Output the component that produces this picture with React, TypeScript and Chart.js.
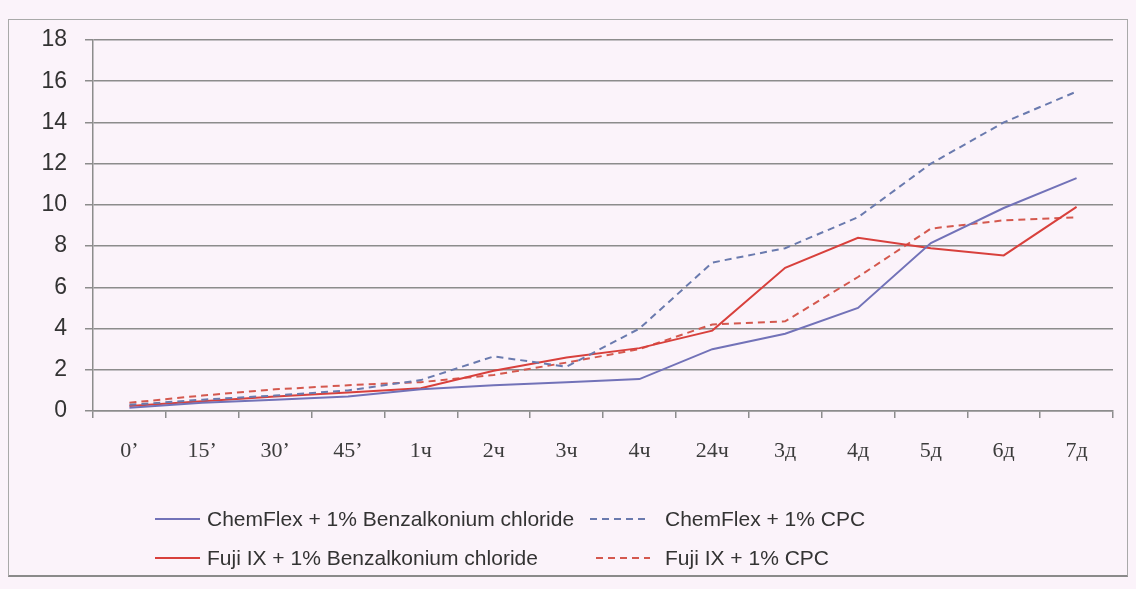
import React, { useEffect, useRef } from "react";
import { Chart, registerables } from "chart.js";

Chart.register(...registerables);

const categories = ["0’", "15’", "30’", "45’", "1ч", "2ч", "3ч", "4ч", "24ч", "3д", "4д", "5д", "6д", "7д"];

const chemFlexBAC = [0.16, 0.4, 0.55, 0.7, 1.05, 1.25, 1.4, 1.55, 3.0, 3.75, 5.0, 8.15, 9.85, 11.3];
const chemFlexCPC = [0.3, 0.55, 0.75, 1.0, 1.5, 2.65, 2.15, 4.0, 7.2, 7.9, 9.4, 12.0, 14.0, 15.5];
const fujiBAC = [0.24, 0.47, 0.7, 0.9, 1.1, 1.95, 2.6, 3.05, 3.9, 6.95, 8.4, 7.9, 7.55, 9.9];
const fujiCPC = [0.4, 0.75, 1.05, 1.25, 1.4, 1.75, 2.35, 3.0, 4.2, 4.35, 6.5, 8.85, 9.25, 9.4];

const seriesNames = [
  "ChemFlex + 1% Benzalkonium chloride",
  "ChemFlex + 1% CPC",
  "Fuji IX + 1% Benzalkonium chloride",
  "Fuji IX + 1% CPC",
];

const yTicks = [0, 2, 4, 6, 8, 10, 12, 14, 16, 18];

const BLUE = "#7272b8";
const BLUE_D = "#6a7aae";
const RED = "#d8403c";
const RED_D = "#d4584e";
const DASH = [7, 5];

const series = [
  { name: seriesNames[0], data: chemFlexBAC, color: BLUE, dash: [] as number[] },
  { name: seriesNames[1], data: chemFlexCPC, color: BLUE_D, dash: DASH },
  { name: seriesNames[2], data: fujiBAC, color: RED, dash: [] as number[] },
  { name: seriesNames[3], data: fujiCPC, color: RED_D, dash: DASH },
];

const GRID = "#8c8c8c";

export default function App() {
  const ref = useRef<HTMLCanvasElement>(null);

  useEffect(() => {
    if (!ref.current) return;
    const chart = new Chart(ref.current, {
      type: "line",
      data: {
        labels: categories,
        datasets: series.map((s) => ({
          label: s.name,
          data: s.data,
          borderColor: s.color,
          backgroundColor: s.color,
          borderDash: s.dash,
          borderWidth: 2,
          pointRadius: 0,
          tension: 0,
          fill: false,
        })),
      },
      options: {
        animation: false,
        responsive: false,
        devicePixelRatio: 1,
        layout: { padding: { left: 8, right: 23, top: 40, bottom: 9 } },
        plugins: {
          legend: { display: false },
          tooltip: { enabled: false },
          title: { display: false },
        },
        scales: {
          x: {
            type: "category",
            offset: true,
            grid: {
              drawOnChartArea: false,
              drawTicks: true,
              tickLength: 7,
              color: GRID,
              lineWidth: 1.5,
              offset: true,
            },
            border: { color: GRID, width: 1.5 },
            ticks: {
              font: { family: "'Liberation Serif', serif", size: 22 },
              color: "#3c3c3c",
              padding: 20,
              maxRotation: 0,
              autoSkip: false,
            },
            afterFit: (s: any) => {
              s.height = 50;
            },
          },
          y: {
            min: yTicks[0],
            max: yTicks[yTicks.length - 1],
            afterBuildTicks: (s: any) => {
              s.ticks = yTicks.map((v) => ({ value: v }));
            },
            ticks: {
              font: { family: "'Liberation Sans', Arial, sans-serif", size: 23 },
              color: "#333333",
              padding: 18,
            },
            grid: { color: GRID, lineWidth: 1.5, tickLength: 8 },
            border: { color: GRID, width: 1.5 },
            afterFit: (s: any) => {
              s.width = 85;
            },
          },
        },
      },
    });
    return () => chart.destroy();
  }, []);

  const legendPos = [
    { lineX1: 155, lineX2: 200, textX: 207, cy: 519 },
    { lineX1: 590, lineX2: 650, textX: 665, cy: 519 },
    { lineX1: 155, lineX2: 200, textX: 207, cy: 558 },
    { lineX1: 596, lineX2: 650, textX: 665, cy: 558 },
  ];

  return (
    <div
      style={{
        position: "absolute",
        left: 0,
        top: 0,
        width: 1136,
        height: 589,
        background: "#fbf3fa",
        overflow: "hidden",
      }}
    >
      <div
        style={{
          position: "absolute",
          left: 8,
          top: 19,
          width: 1120,
          height: 558,
          boxSizing: "border-box",
          border: "1.5px solid #a9a9a9",
          borderBottom: "2.5px solid #8a8a8a",
        }}
      />
      <canvas
        ref={ref}
        width={1136}
        height={470}
        style={{ position: "absolute", left: 0, top: 0, width: 1136, height: 470 }}
      />
      <svg
        width={1136}
        height={589}
        style={{ position: "absolute", left: 0, top: 0, pointerEvents: "none" }}
      >
        {series.map((s, i) => (
          <line
            key={i}
            x1={legendPos[i].lineX1}
            x2={legendPos[i].lineX2}
            y1={legendPos[i].cy}
            y2={legendPos[i].cy}
            stroke={s.color}
            strokeWidth={2}
            strokeDasharray={s.dash.length ? s.dash.join(" ") : undefined}
          />
        ))}
      </svg>
      {series.map((s, i) => (
        <div
          key={"t" + i}
          style={{
            position: "absolute",
            left: legendPos[i].textX,
            top: legendPos[i].cy - 13,
            height: 26,
            lineHeight: "26px",
            fontFamily: "'Liberation Sans', Arial, sans-serif",
            fontSize: 21,
            color: "#333333",
            whiteSpace: "nowrap",
          }}
        >
          {s.name}
        </div>
      ))}
    </div>
  );
}
